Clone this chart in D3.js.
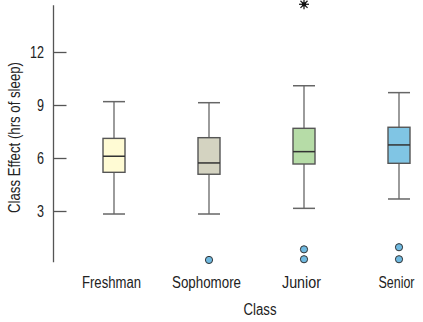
<!DOCTYPE html>
<html><head><meta charset="utf-8">
<script src="https://cdn.jsdelivr.net/npm/d3@7"></script>
<style>
body{margin:0;background:#fff;}
text{font-family:"Liberation Sans Narrow","Liberation Sans",Arial,sans-serif;fill:#222;}
</style></head><body>
<svg id="c" width="423" height="322"></svg>
<script>
const categories = ["Freshman","Sophomore","Junior","Senior"];
const lowWhisker = [2.83, 2.83, 3.15, 3.68];
const q1 = [5.19, 5.08, 5.66, 5.70];
const median = [6.10, 5.72, 6.36, 6.74];
const q3 = [7.11, 7.15, 7.68, 7.74];
const highWhisker = [9.19, 9.13, 10.09, 9.70];
const outliers = [[], [0.23], [0.83, 0.27], [0.95, 0.27]];
const extremes = [[], [], [14.7], []];
const yTicks = [3, 6, 9, 12];
const colors = ["#fffbd4", "#d4d3c1", "#b6dca7", "#80c5e4"];

const svg = d3.select("#c");
const y = d3.scaleLinear().domain([0, 12]).range([264, 52]);
const x = d3.scalePoint().domain(categories).range([114, 399]);
const bw = 22;
const labelW = {Freshman:59, Sophomore:69, Junior:39, Senior:36};

svg.append("line").attr("x1",53.5).attr("x2",53.5).attr("y1",y(14.65)).attr("y2",y(0.1))
  .attr("stroke","#555").attr("stroke-width",1.3);
const yAxis = d3.axisRight(y).tickValues(yTicks).tickSize(13).tickFormat(d3.format("d"));
const ga = svg.append("g").attr("transform","translate(53.5,0)").call(yAxis);
ga.select(".domain").remove();
ga.selectAll(".tick line").attr("stroke","#555").attr("stroke-width",1.3);
ga.selectAll(".tick text").attr("x",-9.5).attr("text-anchor","end").attr("dy","0.36em")
  .attr("font-size",16).attr("fill","#222")
  .attr("textLength", d=>String(d).length*7).attr("lengthAdjust","spacingAndGlyphs");

svg.append("text").attr("transform","translate(20,137.5) rotate(-90)").attr("text-anchor","middle")
  .attr("font-size",16).attr("textLength",151).attr("lengthAdjust","spacingAndGlyphs")
  .text("Class Effect (hrs of sleep)");

categories.forEach((c,i)=>{
  const cx = x(c);
  const g = svg.append("g");
  g.append("line").attr("x1",cx).attr("x2",cx).attr("y1",y(highWhisker[i])).attr("y2",y(q3[i])).attr("stroke","#666").attr("stroke-width",1.3);
  g.append("line").attr("x1",cx).attr("x2",cx).attr("y1",y(q1[i])).attr("y2",y(lowWhisker[i])).attr("stroke","#666").attr("stroke-width",1.3);
  [highWhisker[i], lowWhisker[i]].forEach(v=>{
    g.append("line").attr("x1",cx-bw/2).attr("x2",cx+bw/2).attr("y1",y(v)).attr("y2",y(v)).attr("stroke","#666").attr("stroke-width",1.5);
  });
  g.append("rect").attr("x",cx-bw/2).attr("y",y(q3[i])).attr("width",bw).attr("height",y(q1[i])-y(q3[i]))
    .attr("fill",colors[i]).attr("stroke","#555").attr("stroke-width",1.4);
  g.append("line").attr("x1",cx-bw/2).attr("x2",cx+bw/2).attr("y1",y(median[i])).attr("y2",y(median[i])).attr("stroke","#333").attr("stroke-width",1.5);
  outliers[i].forEach(v=>{
    g.append("circle").attr("cx",cx).attr("cy",y(v)).attr("r",3.6).attr("fill","#6fb9e0").attr("stroke","#333").attr("stroke-width",1);
  });
  extremes[i].forEach(v=>{
    const sy = y(v);
    for(let k=0;k<4;k++){
      const a = k*Math.PI/4;
      g.append("line").attr("x1",cx-5*Math.cos(a)).attr("x2",cx+5*Math.cos(a))
        .attr("y1",sy-5*Math.sin(a)).attr("y2",sy+5*Math.sin(a)).attr("stroke","#222").attr("stroke-width",1.3);
    }
    g.append("rect").attr("x",cx-2).attr("y",sy-2).attr("width",4).attr("height",4).attr("fill","#111");
  });
  svg.append("text").attr("x",cx-2.5).attr("y",288).attr("text-anchor","middle").attr("font-size",16)
    .attr("textLength",labelW[c]).attr("lengthAdjust","spacingAndGlyphs").text(c);
});
svg.append("text").attr("x",260).attr("y",315).attr("text-anchor","middle").attr("font-size",16)
  .attr("textLength",33).attr("lengthAdjust","spacingAndGlyphs").text("Class");
</script></body></html>
